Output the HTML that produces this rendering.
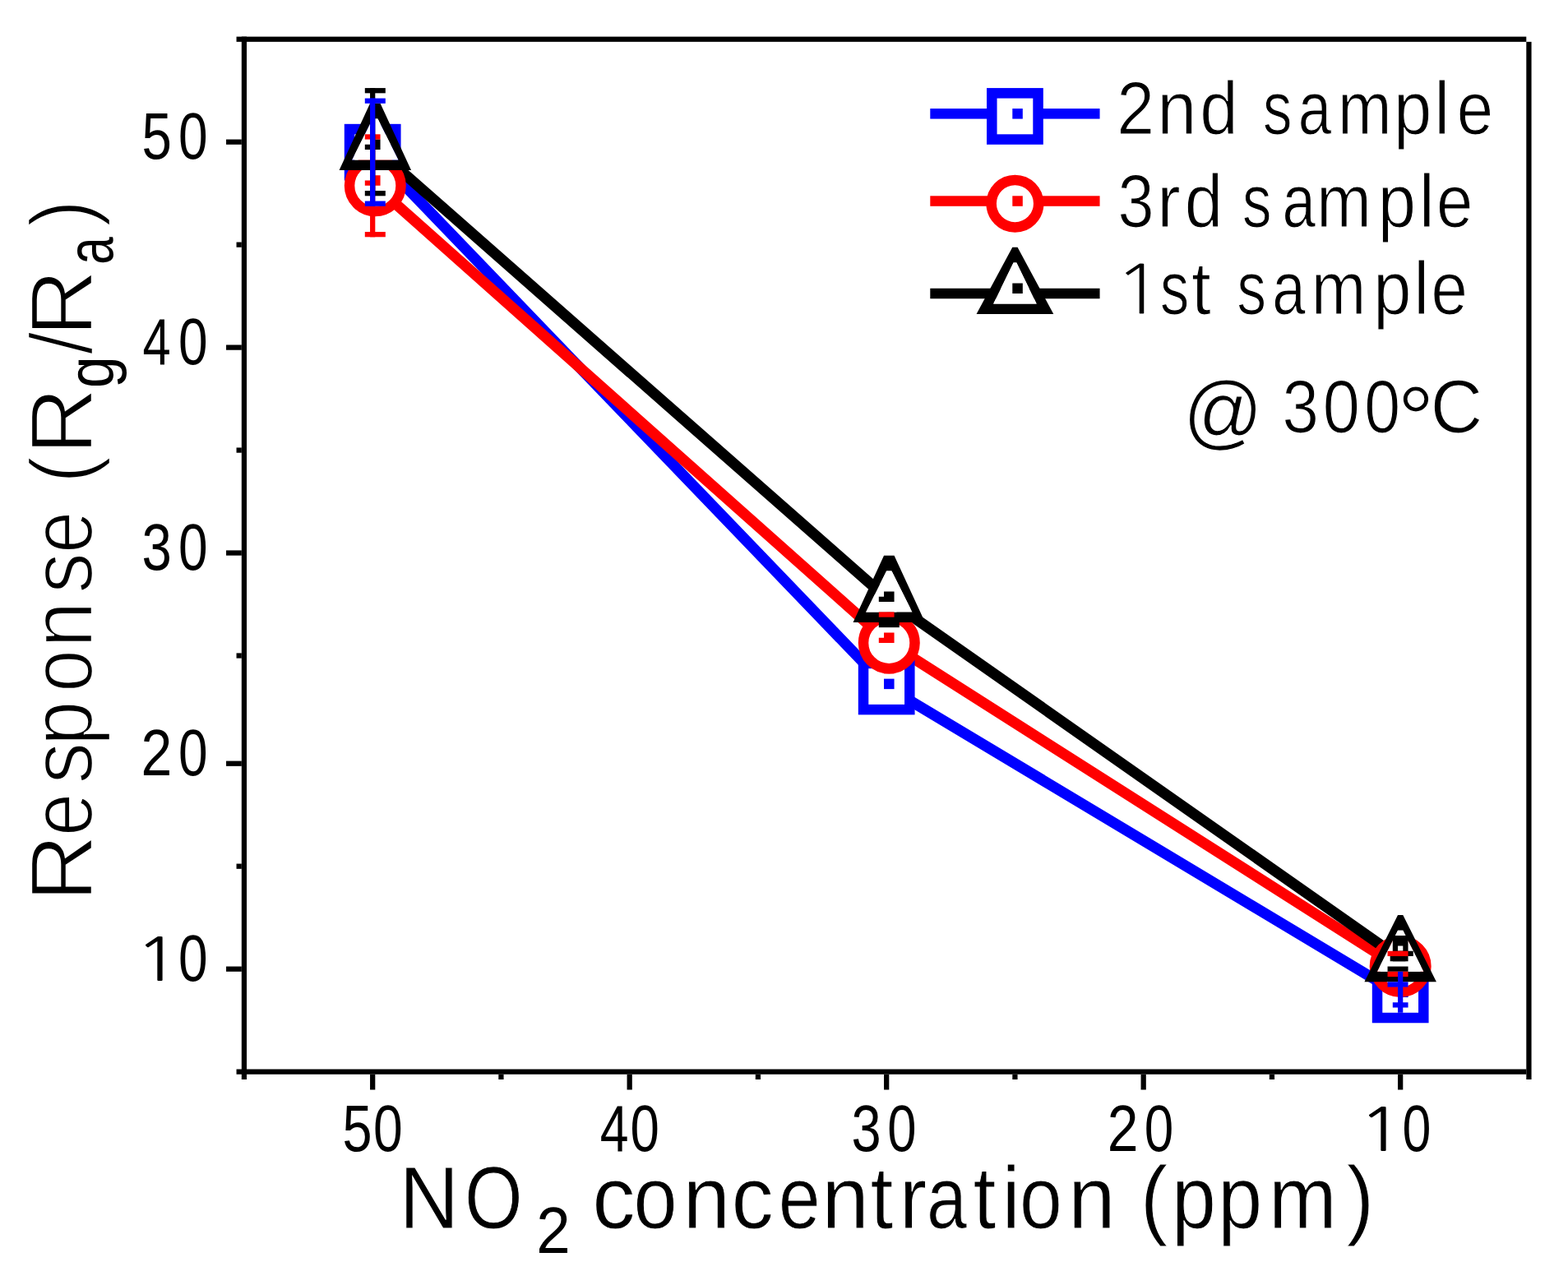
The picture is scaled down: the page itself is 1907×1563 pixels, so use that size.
<!DOCTYPE html>
<html><head><meta charset="utf-8"><title>NO2 response</title>
<style>
html,body{margin:0;padding:0;background:#fff;overflow:hidden;}
svg{display:block;}
text{font-family:'Liberation Sans', sans-serif;fill:#000;}
.tk{stroke:none;}
.tx{stroke:#fff;stroke-width:1.0px;}
.lg{stroke:#fff;stroke-width:1.2px;}
.tt{stroke:#fff;stroke-width:2.4px;}
</style></head>
<body>
<svg width="1907" height="1563" viewBox="0 0 1907 1563">
<rect width="1907" height="1563" fill="#fff"/>
<g transform="translate(0.05,0.86) scale(6.25,6.2483)">
<polyline points="72.5,29.5 172.5,133.5 272.5,193.5" fill="none" stroke="#0000ff" stroke-width="2.1" stroke-linejoin="miter"/>
<polyline points="73,36.0 173,125.0 272.0,188.0" fill="none" stroke="#ff0000" stroke-width="2.1" stroke-linejoin="miter"/>
<polyline points="73,28.7 173,116.7 272.75,186.7" fill="none" stroke="#000000" stroke-width="2.1" stroke-linejoin="miter"/>
<rect x="68.0" y="25.0" width="9" height="9" fill="#fff" stroke="#0000ff" stroke-width="2"/>
<rect x="72.0" y="28.0" width="2" height="2" fill="#0000ff"/>
<rect x="168.0" y="129.0" width="9" height="9" fill="#fff" stroke="#0000ff" stroke-width="2"/>
<rect x="172.0" y="132.0" width="2" height="2" fill="#0000ff"/>
<rect x="268.0" y="189.0" width="9" height="9" fill="#fff" stroke="#0000ff" stroke-width="2"/>
<rect x="272.0" y="192.0" width="2" height="2" fill="#0000ff"/>
<circle cx="73" cy="36" r="5" fill="#fff" stroke="#ff0000" stroke-width="2"/>
<path d="M72,34 H74 V36 H71 V35 H72 Z" fill="#ff0000"/>
<circle cx="173" cy="125" r="5" fill="#fff" stroke="#ff0000" stroke-width="2"/>
<path d="M172,123 H174 V125 H171 V124 H172 Z" fill="#ff0000"/>
<circle cx="272.5" cy="188" r="5" fill="#fff" stroke="#ff0000" stroke-width="2"/>
<path d="M271.5,186 H273.5 V188 H270.5 V187 H271.5 Z" fill="#ff0000"/>
<path d="M72.0,20 L74.0,20 L80.0,33 L66.0,33 Z M72.5,23.0 L68.5,31 L77.5,31 L73.5,23.0 Z" fill="#000000" fill-rule="evenodd"/>
<path d="M72.5,23.0 L68.5,31 L77.5,31 L73.5,23.0 Z" fill="#fff"/>
<path d="M72.0,27 H74.0 V29 H71.0 V28 H72.0 Z" fill="#000000"/>
<path d="M172.0,108 L174.0,108 L180.0,121 L166.0,121 Z M172.5,111.0 L168.5,119 L177.5,119 L173.5,111.0 Z" fill="#000000" fill-rule="evenodd"/>
<path d="M172.5,111.0 L168.5,119 L177.5,119 L173.5,111.0 Z" fill="#fff"/>
<path d="M172,115 H174 V117 H171 V116 H172 Z" fill="#000000"/>
<path d="M272.0,178 L273.0,178 L279.5,191 L265.5,191 Z M272.0,181.0 L268.0,189 L277.0,189 L273.0,181.0 Z" fill="#000000" fill-rule="evenodd"/>
<path d="M272.0,181.0 L268.0,189 L277.0,189 L273.0,181.0 Z" fill="#fff"/>
<path d="M271.5,185 H273.5 V187 H270.5 V186 H271.5 Z" fill="#000000"/>
<rect x="72" y="26" width="1" height="20" fill="#ff0000"/>
<rect x="71" y="26" width="3" height="1" fill="#ff0000"/>
<rect x="71" y="45" width="4" height="1" fill="#ff0000"/>
<rect x="72" y="17" width="1" height="21" fill="#000000"/>
<rect x="71" y="17" width="4" height="1" fill="#000000"/>
<rect x="71" y="37" width="4" height="1" fill="#000000"/>
<rect x="72" y="19" width="1" height="21" fill="#0000ff"/>
<rect x="71" y="19" width="4" height="1" fill="#0000ff"/>
<rect x="71" y="39" width="4" height="1" fill="#0000ff"/>
<rect x="171" y="119" width="3" height="1" fill="#ff0000"/>
<rect x="172" y="130" width="2" height="1" fill="#ff0000"/>
<rect x="171" y="121" width="4" height="1" fill="#000000"/>
<path d="M271,182 H275 V183 H274 V185 H275 V186 H271 Z M272,184 H273 V185 H272 Z" fill="#000000" fill-rule="evenodd"/>
<rect x="271" y="186" width="3" height="1" fill="#000000"/>
<rect x="270" y="188" width="4" height="1" fill="#000000"/>
<rect x="270" y="185" width="4" height="1" fill="#ff0000"/>
<rect x="270" y="189" width="4" height="1" fill="#ff0000"/>
<rect x="272" y="189" width="1" height="8" fill="#0000ff"/>
<rect x="270" y="191" width="4" height="1" fill="#0000ff"/>
<rect x="271" y="195" width="3" height="1" fill="#0000ff"/>
<rect x="46" y="7" width="251" height="1" fill="#000000"/>
<rect x="46" y="208" width="251" height="1" fill="#000000"/>
<rect x="47" y="7" width="1" height="203" fill="#000000"/>
<rect x="297" y="8" width="1" height="202" fill="#000000"/>
<rect x="44" y="27" width="3" height="1" fill="#000000"/>
<rect x="44" y="67" width="3" height="1" fill="#000000"/>
<rect x="44" y="107" width="3" height="1" fill="#000000"/>
<rect x="44" y="148" width="3" height="1" fill="#000000"/>
<rect x="44" y="188" width="3" height="1" fill="#000000"/>
<rect x="46" y="47" width="1" height="1" fill="#000000"/>
<rect x="46" y="87" width="1" height="1" fill="#000000"/>
<rect x="46" y="127" width="1" height="1" fill="#000000"/>
<rect x="46" y="168" width="1" height="1" fill="#000000"/>
<rect x="72" y="209" width="1" height="3" fill="#000000"/>
<rect x="122" y="209" width="1" height="3" fill="#000000"/>
<rect x="172" y="209" width="1" height="3" fill="#000000"/>
<rect x="222" y="209" width="1" height="3" fill="#000000"/>
<rect x="272" y="209" width="1" height="3" fill="#000000"/>
<rect x="97" y="209" width="1" height="1" fill="#000000"/>
<rect x="147" y="209" width="1" height="1" fill="#000000"/>
<rect x="197" y="209" width="1" height="1" fill="#000000"/>
<rect x="247" y="209" width="1" height="1" fill="#000000"/>
<rect x="181" y="21" width="33" height="2" fill="#0000ff"/>
<rect x="193" y="18" width="9" height="9" fill="#fff" stroke="#0000ff" stroke-width="2"/>
<rect x="197" y="21" width="2" height="2" fill="#0000ff"/>
<rect x="181" y="38" width="33" height="2" fill="#ff0000"/>
<circle cx="197.5" cy="39.5" r="4.6" fill="#fff" stroke="#ff0000" stroke-width="2"/>
<rect x="197" y="38" width="2" height="2" fill="#ff0000"/>
<rect x="181" y="56" width="33" height="2" fill="#000000"/>
<path d="M197.0,48 L198.0,48 L205.0,61 L190.0,61 Z M197.2,51.0 L193.3,59 L201.7,59 L197.8,51.0 Z" fill="#000000" fill-rule="evenodd"/>
<path d="M197.2,51.0 L193.3,59 L201.7,59 L197.8,51.0 Z" fill="#fff"/>
<rect x="197" y="55" width="2" height="2" fill="#000000"/>
</g>
<g class="txt">
<text class="tk"><tspan x="172.38" y="193.2" font-size="79" textLength="36.36" lengthAdjust="spacingAndGlyphs">5</tspan><tspan x="216.90" y="193.2" font-size="79" textLength="35.60" lengthAdjust="spacingAndGlyphs">0</tspan></text>
<text class="tk"><tspan x="173.59" y="443.3" font-size="79" textLength="34.21" lengthAdjust="spacingAndGlyphs">4</tspan><tspan x="216.90" y="443.3" font-size="79" textLength="35.60" lengthAdjust="spacingAndGlyphs">0</tspan></text>
<text class="tk"><tspan x="172.51" y="693.4" font-size="79" textLength="36.36" lengthAdjust="spacingAndGlyphs">3</tspan><tspan x="216.90" y="693.4" font-size="79" textLength="35.60" lengthAdjust="spacingAndGlyphs">0</tspan></text>
<text class="tk"><tspan x="171.58" y="943.3" font-size="79" textLength="37.84" lengthAdjust="spacingAndGlyphs">2</tspan><tspan x="216.90" y="943.3" font-size="79" textLength="35.60" lengthAdjust="spacingAndGlyphs">0</tspan></text>
<text class="tk"><tspan x="164.07" y="1193.4" font-size="72.86" textLength="55.19" lengthAdjust="spacingAndGlyphs" style="font-family:NanumGothic,'Liberation Sans',sans-serif">1</tspan><tspan x="216.90" y="1193.4" font-size="79" textLength="35.60" lengthAdjust="spacingAndGlyphs">0</tspan></text>
<text class="tk"><tspan x="416.61" y="1399.8" font-size="79" textLength="36.01" lengthAdjust="spacingAndGlyphs">5</tspan><tspan x="453.89" y="1399.8" font-size="79" textLength="35.72" lengthAdjust="spacingAndGlyphs">0</tspan></text>
<text class="tk"><tspan x="729.67" y="1399.8" font-size="79" textLength="34.77" lengthAdjust="spacingAndGlyphs">4</tspan><tspan x="766.42" y="1399.8" font-size="79" textLength="35.37" lengthAdjust="spacingAndGlyphs">0</tspan></text>
<text class="tk"><tspan x="1035.53" y="1399.8" font-size="79" textLength="36.13" lengthAdjust="spacingAndGlyphs">3</tspan><tspan x="1079.32" y="1399.8" font-size="79" textLength="35.25" lengthAdjust="spacingAndGlyphs">0</tspan></text>
<text class="tk"><tspan x="1346.69" y="1399.8" font-size="79" textLength="37.72" lengthAdjust="spacingAndGlyphs">2</tspan><tspan x="1391.71" y="1399.8" font-size="79" textLength="35.48" lengthAdjust="spacingAndGlyphs">0</tspan></text>
<text class="tk"><tspan x="1652.07" y="1399.8" font-size="72.86" textLength="55.19" lengthAdjust="spacingAndGlyphs" style="font-family:NanumGothic,'Liberation Sans',sans-serif">1</tspan><tspan x="1705.55" y="1399.8" font-size="79" textLength="34.90" lengthAdjust="spacingAndGlyphs">0</tspan></text>
<text class="lg"><tspan x="1358.36" y="162.9" font-size="90" textLength="45.78" lengthAdjust="spacingAndGlyphs">2</tspan><tspan x="1407.15" y="162.9" font-size="90" textLength="48.18" lengthAdjust="spacingAndGlyphs">n</tspan><tspan x="1459.20" y="162.9" font-size="90" textLength="46.38" lengthAdjust="spacingAndGlyphs">d</tspan><tspan x="1510.00" y="162.9" font-size="90"> </tspan><tspan x="1535.93" y="162.9" font-size="90" textLength="35.43" lengthAdjust="spacingAndGlyphs">s</tspan><tspan x="1578.71" y="162.9" font-size="90" textLength="40.49" lengthAdjust="spacingAndGlyphs">a</tspan><tspan x="1626.97" y="162.9" font-size="90" textLength="65.62" lengthAdjust="spacingAndGlyphs">m</tspan><tspan x="1695.04" y="162.9" font-size="90" textLength="46.25" lengthAdjust="spacingAndGlyphs">p</tspan><tspan x="1744.24" y="162.9" font-size="90" textLength="19.00" lengthAdjust="spacingAndGlyphs">l</tspan><tspan x="1771.81" y="162.9" font-size="90" textLength="44.33" lengthAdjust="spacingAndGlyphs">e</tspan></text>
<text class="lg"><tspan x="1359.49" y="275.7" font-size="90" textLength="43.99" lengthAdjust="spacingAndGlyphs">3</tspan><tspan x="1407.22" y="275.7" font-size="90" textLength="28.47" lengthAdjust="spacingAndGlyphs">r</tspan><tspan x="1440.80" y="275.7" font-size="90" textLength="46.38" lengthAdjust="spacingAndGlyphs">d</tspan><tspan x="1490.00" y="275.7" font-size="90"> </tspan><tspan x="1511.03" y="275.7" font-size="90" textLength="35.43" lengthAdjust="spacingAndGlyphs">s</tspan><tspan x="1559.51" y="275.7" font-size="90" textLength="40.49" lengthAdjust="spacingAndGlyphs">a</tspan><tspan x="1601.19" y="275.7" font-size="90" textLength="66.58" lengthAdjust="spacingAndGlyphs">m</tspan><tspan x="1675.84" y="275.7" font-size="90" textLength="46.25" lengthAdjust="spacingAndGlyphs">p</tspan><tspan x="1725.84" y="275.7" font-size="90" textLength="19.00" lengthAdjust="spacingAndGlyphs">l</tspan><tspan x="1746.91" y="275.7" font-size="90" textLength="44.33" lengthAdjust="spacingAndGlyphs">e</tspan></text>
<text class="lg"><tspan x="1353.87" y="381.8" font-size="83.0" textLength="62.87" lengthAdjust="spacingAndGlyphs" style="font-family:NanumGothic,'Liberation Sans',sans-serif">1</tspan><tspan x="1410.94" y="381.8" font-size="90" textLength="35.20" lengthAdjust="spacingAndGlyphs">s</tspan><tspan x="1449.11" y="381.8" font-size="90" textLength="23.75" lengthAdjust="spacingAndGlyphs">t</tspan><tspan x="1480.00" y="381.8" font-size="90"> </tspan><tspan x="1504.53" y="381.8" font-size="90" textLength="35.43" lengthAdjust="spacingAndGlyphs">s</tspan><tspan x="1547.31" y="381.8" font-size="90" textLength="40.49" lengthAdjust="spacingAndGlyphs">a</tspan><tspan x="1594.69" y="381.8" font-size="90" textLength="66.58" lengthAdjust="spacingAndGlyphs">m</tspan><tspan x="1670.25" y="381.8" font-size="90" textLength="46.13" lengthAdjust="spacingAndGlyphs">p</tspan><tspan x="1719.34" y="381.8" font-size="90" textLength="19.00" lengthAdjust="spacingAndGlyphs">l</tspan><tspan x="1740.41" y="381.8" font-size="90" textLength="44.33" lengthAdjust="spacingAndGlyphs">e</tspan></text>
<text class="lg"><tspan x="1439.01" y="534.5" font-size="100" textLength="96.73" lengthAdjust="spacingAndGlyphs">@</tspan><tspan x="1540.00" y="525.6" font-size="90"> </tspan><tspan x="1559.56" y="525.6" font-size="90" textLength="44.34" lengthAdjust="spacingAndGlyphs">3</tspan><tspan x="1608.73" y="525.6" font-size="90" textLength="45.14" lengthAdjust="spacingAndGlyphs">0</tspan><tspan x="1659.22" y="525.6" font-size="90" textLength="43.86" lengthAdjust="spacingAndGlyphs">0</tspan><tspan x="1699.60" y="547.5" font-size="112" textLength="44.95" lengthAdjust="spacingAndGlyphs">°</tspan><tspan x="1739.64" y="525.6" font-size="90" textLength="63.40" lengthAdjust="spacingAndGlyphs">C</tspan></text>
<text class="tx"><tspan x="485.43" y="1493.6" font-size="108" textLength="72.79" lengthAdjust="spacingAndGlyphs">N</tspan><tspan x="564.90" y="1493.6" font-size="108" textLength="70.65" lengthAdjust="spacingAndGlyphs">O</tspan><tspan x="652.25" y="1524" font-size="79" textLength="41.51" lengthAdjust="spacingAndGlyphs" style="stroke:none">2</tspan><tspan x="700.00" y="1493.6" font-size="108"> </tspan><tspan x="720.36" y="1493.6" font-size="108" textLength="52.30" lengthAdjust="spacingAndGlyphs">c</tspan><tspan x="770.49" y="1493.6" font-size="108" textLength="53.12" lengthAdjust="spacingAndGlyphs">o</tspan><tspan x="830.52" y="1493.6" font-size="108" textLength="57.60" lengthAdjust="spacingAndGlyphs">n</tspan><tspan x="889.55" y="1493.6" font-size="108" textLength="51.26" lengthAdjust="spacingAndGlyphs">c</tspan><tspan x="946.71" y="1493.6" font-size="108" textLength="50.96" lengthAdjust="spacingAndGlyphs">e</tspan><tspan x="999.31" y="1493.6" font-size="108" textLength="57.74" lengthAdjust="spacingAndGlyphs">n</tspan><tspan x="1058.48" y="1493.6" font-size="108" textLength="27.91" lengthAdjust="spacingAndGlyphs">t</tspan><tspan x="1093.63" y="1493.6" font-size="108" textLength="33.45" lengthAdjust="spacingAndGlyphs">r</tspan><tspan x="1127.06" y="1493.6" font-size="108" textLength="48.94" lengthAdjust="spacingAndGlyphs">a</tspan><tspan x="1183.48" y="1493.6" font-size="108" textLength="27.91" lengthAdjust="spacingAndGlyphs">t</tspan><tspan x="1218.38" y="1493.6" font-size="108" textLength="22.31" lengthAdjust="spacingAndGlyphs">i</tspan><tspan x="1240.09" y="1493.6" font-size="108" textLength="51.83" lengthAdjust="spacingAndGlyphs">o</tspan><tspan x="1299.01" y="1493.6" font-size="108" textLength="57.74" lengthAdjust="spacingAndGlyphs">n</tspan><tspan x="1360.00" y="1493.6" font-size="108"> </tspan><tspan x="1386.77" y="1493.6" font-size="108" textLength="33.45" lengthAdjust="spacingAndGlyphs">(</tspan><tspan x="1424.95" y="1493.6" font-size="108" textLength="53.92" lengthAdjust="spacingAndGlyphs">p</tspan><tspan x="1481.15" y="1493.6" font-size="108" textLength="53.92" lengthAdjust="spacingAndGlyphs">p</tspan><tspan x="1542.90" y="1493.6" font-size="108" textLength="82.74" lengthAdjust="spacingAndGlyphs">m</tspan><tspan x="1637.81" y="1493.6" font-size="108" textLength="33.45" lengthAdjust="spacingAndGlyphs">)</tspan></text>
<g transform="translate(112.4,1087.8) rotate(-90)"><text class="tt"><tspan x="-9.42" y="0" font-size="108" textLength="82.95" lengthAdjust="spacingAndGlyphs">R</tspan><tspan x="70.92" y="0" font-size="108" textLength="52.15" lengthAdjust="spacingAndGlyphs">e</tspan><tspan x="134.39" y="0" font-size="108" textLength="50.57" lengthAdjust="spacingAndGlyphs">s</tspan><tspan x="180.78" y="0" font-size="108" textLength="54.54" lengthAdjust="spacingAndGlyphs">p</tspan><tspan x="246.12" y="0" font-size="108" textLength="51.36" lengthAdjust="spacingAndGlyphs">o</tspan><tspan x="299.85" y="0" font-size="108" textLength="56.56" lengthAdjust="spacingAndGlyphs">n</tspan><tspan x="366.14" y="0" font-size="108" textLength="49.54" lengthAdjust="spacingAndGlyphs">s</tspan><tspan x="414.89" y="0" font-size="108" textLength="51.20" lengthAdjust="spacingAndGlyphs">e</tspan><tspan x="437.80" y="0" font-size="108"> </tspan><tspan x="499.87" y="0" font-size="108" textLength="33.45" lengthAdjust="spacingAndGlyphs">(</tspan><tspan x="534.21" y="0" font-size="108" textLength="82.71" lengthAdjust="spacingAndGlyphs">R</tspan><tspan x="615.69" y="24.7" font-size="79" textLength="38.59" lengthAdjust="spacingAndGlyphs" style="stroke:none">g</tspan><tspan x="656.50" y="0" font-size="108" textLength="27.91" lengthAdjust="spacingAndGlyphs">/</tspan><tspan x="678.02" y="0" font-size="108" textLength="82.59" lengthAdjust="spacingAndGlyphs">R</tspan><tspan x="766.14" y="24.7" font-size="79" textLength="33.56" lengthAdjust="spacingAndGlyphs" style="stroke:none">a</tspan><tspan x="811.51" y="0" font-size="108" textLength="33.45" lengthAdjust="spacingAndGlyphs">)</tspan></text></g>
</g>
</svg>
</body></html>
